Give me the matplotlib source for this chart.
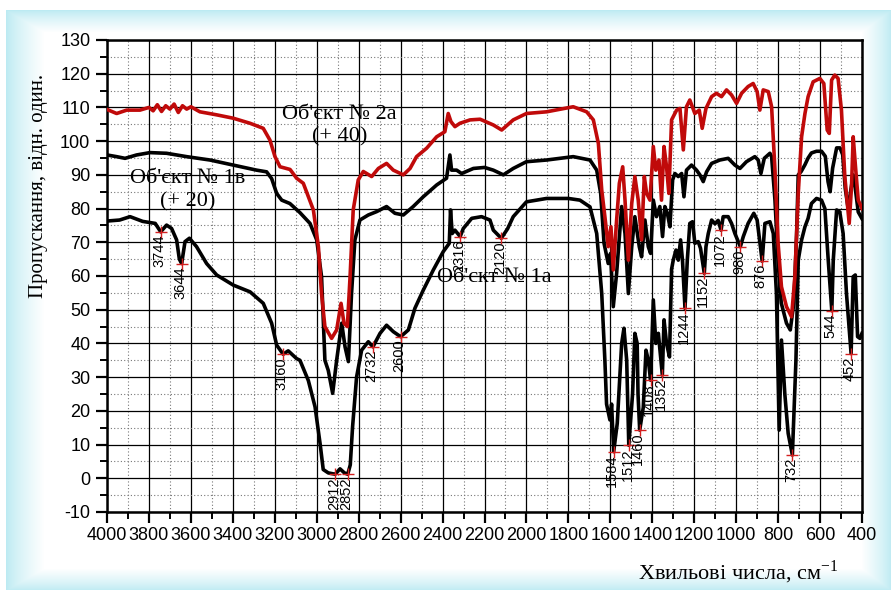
import numpy as np
import matplotlib
matplotlib.use('Agg')
import matplotlib.pyplot as plt
from matplotlib.ticker import MultipleLocator

plt.rcParams['axes.unicode_minus'] = False

# ── Spectra (wavenumber, transmittance) ──────────────────────────────────────
wn_1a = [4000, 3940, 3890, 3830, 3770, 3744, 3716, 3692, 3668, 3655, 3644, 3628,
         3607, 3573, 3525, 3477, 3398, 3318, 3255, 3215, 3191, 3160, 3136, 3096,
         3080, 3040, 3008, 2984, 2969, 2945, 2912, 2889, 2868, 2852, 2840, 2829,
         2810, 2786, 2754, 2732, 2698, 2667, 2635, 2600, 2563, 2532, 2492, 2444,
         2397, 2368, 2362, 2354, 2341, 2316, 2301, 2261, 2214, 2174, 2158, 2120,
         2090, 2063, 2000, 1904, 1800, 1745, 1697, 1665, 1641, 1626, 1618, 1602,
         1594, 1584, 1567, 1546, 1535, 1522, 1512, 1494, 1483, 1472, 1468, 1460,
         1443, 1430, 1419, 1408, 1395, 1383, 1371, 1352, 1344, 1332, 1318, 1308,
         1300, 1287, 1276, 1265, 1256, 1244, 1233, 1221, 1208, 1197, 1181, 1170,
         1152, 1144, 1133, 1117, 1101, 1086, 1072, 1062, 1038, 1022, 1006, 980,
         966, 943, 916, 900, 876, 863, 839, 823, 808, 795, 784, 768, 752, 732,
         715, 704, 688, 672, 657, 641, 617, 593, 577, 561, 544, 537, 521, 506,
         490, 474, 452, 442, 432, 421, 410, 400]
t_1a = [76.3, 76.6, 77.6, 76.2, 75.6, 73.1, 75.1, 74.1, 70.7, 65.0, 63.7, 70.2,
        71.2, 68.7, 63.7, 60.3, 57.3, 55.3, 51.9, 46.0, 39.5, 36.8, 37.8, 35.5,
        35.0, 29.0, 21.2, 10.3, 2.6, 1.6, 1.2, 2.8, 1.6, 1.2, 4.0, 15.3,
        30.0, 38.0, 40.5, 39.0, 43.0, 45.4, 43.5, 42.0, 44.0, 50.4, 55.8, 61.8,
        67.2, 69.7, 79.6, 72.6, 73.6, 71.7, 74.1, 77.1, 77.6, 76.6, 73.6, 71.2,
        74.0, 77.6, 82.0, 83.0, 83.0, 82.5, 80.5, 72.6, 54.8, 35.0, 22.0, 17.3,
        22.0, 7.9, 16.3, 40.0, 44.5, 35.0, 9.8, 25.0, 43.0, 40.0, 25.0, 14.3,
        21.0, 38.0, 35.0, 29.1, 52.9, 40.0, 43.0, 30.6, 47.0, 40.0, 36.0, 62.0,
        64.7, 67.7, 64.7, 70.7, 64.7, 50.4, 64.7, 75.6, 76.1, 69.7, 70.2, 68.2,
        60.8, 68.7, 72.6, 76.6, 75.5, 76.5, 73.6, 77.6, 77.6, 75.6, 72.6, 68.7,
        71.7, 75.6, 78.6, 76.6, 64.4, 75.6, 76.1, 72.6, 54.8, 14.3, 41.0, 25.0, 13.3, 6.9,
        35.0, 64.7, 70.7, 74.6, 77.1, 81.5, 83.0, 82.5, 80.0, 64.7, 49.7, 64.7, 79.6, 79.0,
        72.6, 54.8, 37.0, 59.8, 60.3, 42.0, 41.5, 43.0]

wn_1v = [4000, 3954, 3914, 3859, 3795, 3716, 3620, 3509, 3398, 3287, 3239, 3215,
         3191, 3167, 3128, 3080, 3032, 3000, 2977, 2961, 2945, 2924, 2905, 2881,
         2865, 2849, 2834, 2818, 2794, 2754, 2714, 2667, 2627, 2587, 2540, 2492,
         2428, 2381, 2365, 2357, 2333, 2309, 2253, 2200, 2158, 2110, 2063, 2000,
         1904, 1777, 1697, 1665, 1646, 1630, 1610, 1599, 1586, 1570, 1546, 1530,
         1514, 1498, 1483, 1462, 1451, 1435, 1419, 1408, 1395, 1380, 1364, 1351,
         1340, 1328, 1316, 1303, 1292, 1276, 1260, 1249, 1237, 1213, 1189, 1173,
         1157, 1141, 1117, 1078, 1038, 1006, 982, 951, 911, 895, 882, 866, 839,
         831, 815, 800, 785, 760, 742, 725, 712, 704, 690, 672, 657, 641, 617,
         593, 575, 562, 552, 540, 521, 505, 492, 480, 466, 452, 442, 432, 418, 400]
t_1v = [95.9, 95.4, 94.9, 95.9, 96.6, 96.4, 95.4, 94.4, 92.9, 91.4, 90.9, 88.9,
        84.5, 82.5, 81.5, 78.8, 75.6, 70.7, 59.8, 35.0, 32.0, 25.2, 35.0, 46.0,
        39.0, 34.6, 54.8, 70.7, 76.6, 78.1, 79.1, 80.6, 78.6, 78.1, 80.6, 83.5,
        87.0, 89.0, 95.9, 91.4, 91.4, 90.4, 91.9, 92.2, 91.4, 90.0, 91.9, 93.9,
        94.4, 95.4, 94.4, 91.4, 84.5, 69.7, 63.7, 66.7, 50.9, 60.8, 80.6, 72.6,
        54.8, 68.7, 77.6, 68.7, 65.7, 76.6, 68.7, 66.7, 82.5, 77.6, 80.6, 71.7,
        80.6, 78.6, 74.6, 88.5, 90.4, 89.5, 90.4, 83.5, 91.4, 92.9, 91.4, 90.0,
        88.0, 90.9, 93.4, 94.4, 94.9, 92.9, 91.9, 93.9, 95.4, 94.4, 90.4, 94.9, 96.4,
        95.4, 82.5, 64.0, 52.0, 46.0, 44.0, 52.0, 72.0, 90.0, 91.0, 93.0, 95.0, 96.5, 97.0,
        97.0, 95.5, 88.0, 85.0, 92.0, 98.0, 98.0, 96.0, 86.0, 80.0, 86.0, 90.0, 86.0, 79.0, 77.0]

wn_2a = [4000, 3954, 3906, 3843, 3800, 3780, 3760, 3740, 3720, 3700, 3680, 3660,
         3640, 3620, 3600, 3557, 3477, 3398, 3318, 3255, 3223, 3199, 3175, 3144,
         3127, 3096, 3064, 3016, 2992, 2977, 2961, 2929, 2905, 2884, 2870, 2854,
         2841, 2826, 2802, 2778, 2738, 2706, 2667, 2635, 2587, 2555, 2524, 2476,
         2428, 2389, 2373, 2360, 2341, 2317, 2269, 2221, 2158, 2118, 2063, 2000,
         1904, 1777, 1713, 1681, 1657, 1641, 1626, 1610, 1597, 1586, 1570, 1557,
         1541, 1530, 1514, 1498, 1483, 1467, 1451, 1438, 1427, 1411, 1395, 1383,
         1368, 1356, 1344, 1332, 1321, 1308, 1284, 1268, 1252, 1237, 1221, 1197,
         1176, 1162, 1144, 1117, 1094, 1070, 1046, 1022, 998, 974, 943, 919, 900,
         887, 871, 847, 831, 815, 800, 784, 760, 736, 720, 704, 688, 672, 657,
         633, 601, 582, 566, 556, 545, 530, 514, 498, 482, 461, 450, 442, 431, 418, 400]
t_2a = [109.4, 108.2, 109.2, 109.2, 110.0, 109.0, 110.8, 108.8, 110.5, 109.5, 111.0, 108.5,
        110.5, 109.5, 110.2, 108.7, 107.8, 106.8, 105.3, 103.8, 100.3, 95.4, 92.4, 91.9,
        91.6, 89.0, 87.5, 79.6, 68.7, 54.8, 45.0, 41.5, 44.0, 51.9, 46.0, 45.0,
        59.8, 79.6, 88.5, 91.0, 89.5, 91.9, 93.4, 91.4, 90.0, 91.9, 95.4, 97.9,
        101.3, 102.8, 108.2, 105.8, 104.3, 105.3, 106.3, 106.5, 104.8, 103.3, 106.3, 108.2,
        108.7, 110.2, 108.7, 106.3, 99.3, 85.5, 77.6, 68.7, 74.6, 61.8, 76.6, 87.5,
        92.4, 82.5, 64.7, 81.5, 89.5, 82.5, 70.7, 89.5, 84.5, 82.5, 98.4, 91.4,
        94.4, 82.5, 98.4, 92.4, 84.5, 106.3, 109.2, 109.7, 97.4, 110.2, 112.2, 108.2,
        109.2, 103.8, 109.7, 113.2, 114.2, 113.2, 115.2, 113.7, 111.2, 114.2, 116.2, 117.1, 114.7,
        109.2, 115.2, 114.7, 110.2, 91.4, 69.7, 56.8, 50.9, 47.9, 59.8, 84.5, 101.3, 108.2, 113.2,
        117.6, 118.6, 117.1, 103.3, 102.3, 118.1, 119.6, 118.6, 109.2, 89.5, 75.6, 86.5, 101.3, 92.4, 82.5, 80.0]

# peak picks on the lower spectrum
peak_wn = [3744, 3644, 3160, 2912, 2852, 2732, 2600, 2316, 2120, 1584, 1512,
           1460, 1408, 1352, 1244, 1152, 1072, 980, 876, 732, 544, 452]
peak_t = [73.1, 63.7, 36.8, 1.2, 1.2, 39.0, 42.0, 71.7, 71.2, 7.9, 9.8,
          14.3, 29.1, 30.6, 50.4, 60.8, 73.6, 68.7, 64.4, 6.9, 49.7, 37.0]

RED = "#C00A0A"
W, H = 891, 590

fig = plt.figure(figsize=(W / 100, H / 100), dpi=100, facecolor='white')

# ── Cyan frame background with soft inner fade ──────────────────────────────
bg = fig.add_axes([0, 0, 1, 1], zorder=-5)
yy, xx = np.mgrid[0:H, 0:W].astype(float)
x0, y0, x1, y1 = 6, 10, 891, 590
inside = (xx >= x0) & (xx < x1) & (yy >= y0) & (yy < y1)
d = np.minimum.reduce([(xx - x0) / 38.0, (yy - y0) / 22.0,
                       (x1 - xx) / 30.0, (y1 - yy) / 22.0])
f = np.clip(d, 0, 1) ** 0.8
cyan = np.array([0.74, 0.92, 0.95])
img = np.ones((H, W, 3))
mix = cyan[None, None, :] * (1 - f[..., None]) + 1.0 * f[..., None]
img[inside] = mix[inside]
bg.imshow(img, aspect='auto', extent=(0, W, H, 0))
bg.axis('off')

# ── Main axes ───────────────────────────────────────────────────────────────
ax = fig.add_axes([107 / W, 1 - 512 / H, 755 / W, 472 / H])
ax.set_facecolor('white')
ax.set_xlim(4000, 400)
ax.set_ylim(-10, 130)

ax.xaxis.set_major_locator(MultipleLocator(200))
ax.xaxis.set_minor_locator(MultipleLocator(100))
ax.yaxis.set_major_locator(MultipleLocator(10))
ax.yaxis.set_minor_locator(MultipleLocator(5))
ax.grid(which='major', color='black', lw=0.9)
ax.grid(which='minor', color='#777777', lw=0.8, ls=(0, (1, 2)))
ax.set_axisbelow(True)

for s in ax.spines.values():
    s.set_linewidth(1.8)
ax.tick_params(which='major', direction='out', length=8, width=1.6,
               labelsize=13, pad=3)
ax.tick_params(which='minor', direction='out', length=5, width=1.4)
ax.tick_params(axis='y', which='major', pad=4)
for lab in ax.get_xticklabels() + ax.get_yticklabels():
    lab.set_family('Liberation Sans')

ax.plot(wn_1a, t_1a, color='black', lw=2.6, zorder=3)
ax.plot(wn_1v, t_1v, color='black', lw=2.6, zorder=3)
ax.plot(wn_2a, t_2a, color=RED, lw=2.6, zorder=4)

# peak markers + labels
ax.plot(peak_wn, peak_t, ls='none', marker='+', ms=9, mew=1.0,
        color='#D42020', zorder=6)
for w, t in zip(peak_wn, peak_t):
    ax.annotate(str(w), (w, t), xytext=(-1, -2), textcoords='offset points',
                rotation=90, ha='center', va='top', fontsize=10.5,
                family=['Liberation Sans Narrow', 'Liberation Sans'], zorder=7)

# curve captions
SERIF = 'Liberation Serif'
FS = 16
ax.text(2890, 107.8, "Об'єкт № 2а", family=SERIF, fontsize=FS,
        ha='center', va='center')
ax.text(2890, 101.2, "(+ 40)", family=SERIF, fontsize=FS,
        ha='center', va='center')
ax.text(3616, 89, "Об'єкт № 1в", family=SERIF, fontsize=FS,
        ha='center', va='center')
ax.text(3616, 82, "(+ 20)", family=SERIF, fontsize=FS,
        ha='center', va='center')
ax.text(2427, 59.7, "Об'єкт № 1а", family=SERIF, fontsize=FS,
        ha='left', va='center')

ax.set_ylabel("Пропускання, відн. один.", family=SERIF, fontsize=15)
ax.yaxis.set_label_coords(-0.078, 0.69)
fig.text(838 / W, 1 - 572 / H, "Хвильові числа, см$^{\\mathregular{-1}}$",
         family=SERIF, fontsize=16, ha='right', va='center')

fig.savefig('out.png', dpi=100, facecolor='white')
